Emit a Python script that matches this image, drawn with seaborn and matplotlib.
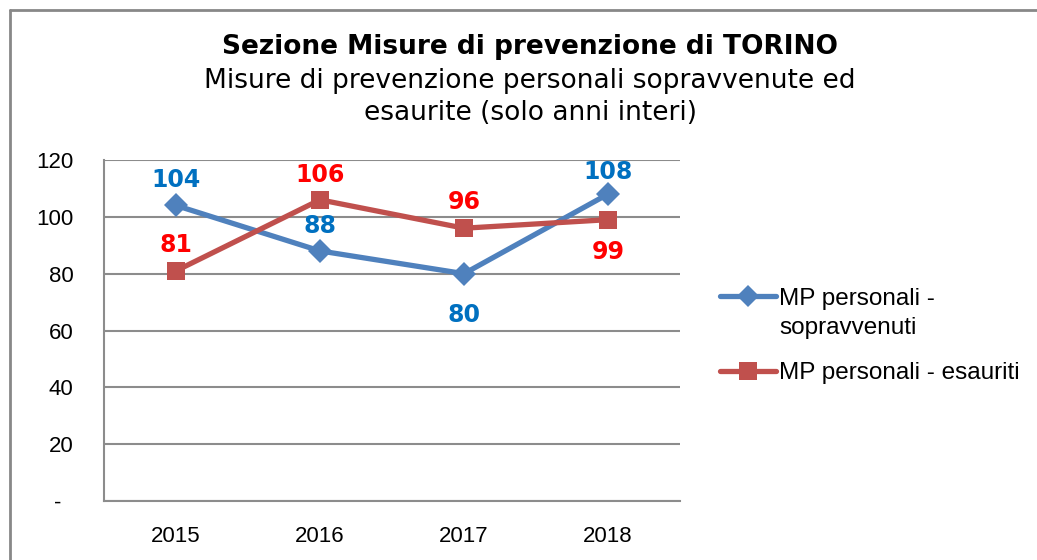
import matplotlib
matplotlib.use("Agg")
import matplotlib.pyplot as plt
import seaborn as sns
import pandas as pd
from matplotlib.lines import Line2D

years = ["2015", "2016", "2017", "2018"]
sopravvenuti = [104, 88, 80, 108]
esauriti = [81, 106, 96, 99]
series_names = ["MP personali -\nsopravvenuti", "MP personali - esauriti"]
ytick_vals = [0, 20, 40, 60, 80, 100, 120]
ytick_labels = ["-  ", "20", "40", "60", "80", "100", "120"]
title = "Sezione Misure di prevenzione di TORINO"
subtitle = "Misure di prevenzione personali sopravvenute ed\nesaurite (solo anni interi)"

sns.set_theme(style="white")
plt.rcParams['font.family'] = ['DejaVu Sans']
plt.rcParams['text.color'] = 'black'

W, H = 1037, 560
fig = plt.figure(figsize=(W / 100, H / 100), dpi=100)
ax = fig.add_axes([104 / W, 1 - 501 / H, (680 - 104) / W, (501 - 160) / H])

df = pd.DataFrame({
    "year": years * 2,
    "value": sopravvenuti + esauriti,
    "series": [series_names[0]] * 4 + [series_names[1]] * 4,
})
df["x"] = list(range(4)) * 2

blue, red = "#4F81BD", "#C0504D"
lab_blue, lab_red = "#0070C0", "#FF0000"

sns.lineplot(data=df[df.series == series_names[0]], x="x", y="value", ax=ax,
             color=blue, lw=3.8, marker="D", markersize=12, markeredgewidth=0,
             legend=False, zorder=3)
sns.lineplot(data=df[df.series == series_names[1]], x="x", y="value", ax=ax,
             color=red, lw=3.8, marker="s", markersize=13, markeredgewidth=0,
             legend=False, zorder=4)

ax.set_xlim(-0.5, 3.5)
ax.set_ylim(0, 120)
ax.set_yticks(ytick_vals)
ax.set_yticklabels(ytick_labels)
ax.set_xticks(range(4))
ax.set_xticklabels(years)
ax.set_xlabel("")
ax.set_ylabel("")
ax.tick_params(axis="both", length=0, labelsize=16, colors="black")
ax.tick_params(axis="y", pad=22)
ax.tick_params(axis="x", pad=18)
for lbl in ax.get_xticklabels() + ax.get_yticklabels():
    lbl.set_family("Liberation Sans")
ax.grid(axis="y", color="#8C8C8C", lw=1.5)
ax.grid(axis="x", visible=False)
for s in ["top", "right"]:
    ax.spines[s].set_visible(False)
for s in ["left", "bottom"]:
    ax.spines[s].set_color("#8C8C8C")
    ax.spines[s].set_linewidth(1.5)

# data labels (offsets in pixels from the point to the label centre)
blue_off = [25, 25, -41, 22]
red_off = [26, 25, 26, -32]
for i, (v, o) in enumerate(zip(sopravvenuti, blue_off)):
    ax.annotate(str(v), (i, v), xytext=(0, o), textcoords="offset pixels",
                ha="center", va="center", color=lab_blue, fontsize=17,
                fontweight="bold", family="DejaVu Sans", zorder=5)
for i, (v, o) in enumerate(zip(esauriti, red_off)):
    ax.annotate(str(v), (i, v), xytext=(0, o), textcoords="offset pixels",
                ha="center", va="center", color=lab_red, fontsize=17,
                fontweight="bold", family="DejaVu Sans", zorder=5)

# titles
fig.text(530 / W, 1 - 47 / H, title, ha="center", va="center", fontsize=19,
         fontweight="bold", color="black")
fig.text(530 / W, 1 - 97 / H, subtitle, ha="center", va="center", fontsize=19,
         color="black", linespacing=1.25)

# legend
handles = [
    Line2D([0], [0], color=blue, lw=3.8, marker="D", markersize=11, markeredgewidth=0),
    Line2D([0], [0], color=red, lw=3.8, marker="s", markersize=13, markeredgewidth=0),
]
first_lines = [n.split("\n")[0] for n in series_names]
leg = fig.legend(handles, first_lines, loc="center left",
                 bbox_to_anchor=(710 / W, 1 - 336 / H), frameon=False,
                 prop={"family": "Liberation Sans", "size": 17.5}, handlelength=2.3,
                 handletextpad=0.15, labelspacing=2.17, borderaxespad=0)
for t in leg.get_texts():
    t.set_color("black")
fig.canvas.draw()
t0 = leg.get_texts()[0]
bb = t0.get_window_extent()
fig.text(bb.x0 / W, (bb.y0 + bb.y1) / 2 / H - 29 / H, series_names[0].split("\n")[1],
         ha="left", va="center", family="Liberation Sans", fontsize=17.5, color="black")

# outer border
fig.add_artist(Line2D([9.5 / W, 9.5 / W], [0, 1 - 10 / H], transform=fig.transFigure,
                      color="#888888", lw=2))
fig.add_artist(Line2D([9.5 / W, 1], [1 - 10 / H, 1 - 10 / H], transform=fig.transFigure,
                      color="#888888", lw=2))

fig.savefig("out.png", dpi=100)
